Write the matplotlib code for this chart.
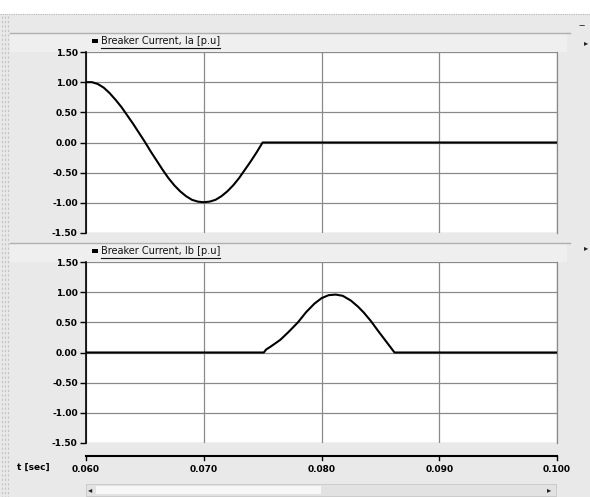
import matplotlib
matplotlib.use("Agg")
import matplotlib.pyplot as plt
from matplotlib.patches import Rectangle
from matplotlib.lines import Line2D

# ---- data ----
t_a = [0.0600, 0.0605, 0.0610, 0.0615, 0.0620, 0.0625, 0.0630, 0.0635, 0.0640, 0.0645,
       0.0650, 0.0655, 0.0660, 0.0665, 0.0670, 0.0675, 0.0680, 0.0685, 0.0690, 0.0695,
       0.0700, 0.0705, 0.0710, 0.0715, 0.0720, 0.0725, 0.0730, 0.0735, 0.0740, 0.0745,
       0.0750, 0.1000]
ia = [1.00, 1.00, 0.97, 0.91, 0.82, 0.71, 0.59, 0.45, 0.31, 0.16,
      0.01, -0.15, -0.30, -0.45, -0.59, -0.71, -0.81, -0.89, -0.95, -0.98,
      -0.99, -0.98, -0.95, -0.89, -0.81, -0.71, -0.59, -0.45, -0.31, -0.16,
      0.00, 0.00]

t_b = [0.0600, 0.0751, 0.0753, 0.0757, 0.0765, 0.0772, 0.0780, 0.0787, 0.0794, 0.0800,
       0.0806, 0.0812, 0.0818, 0.0825, 0.0831, 0.0836, 0.0842, 0.0848, 0.0855, 0.0862,
       0.1000]
ib = [0.00, 0.00, 0.05, 0.10, 0.21, 0.34, 0.50, 0.67, 0.81, 0.90,
      0.95, 0.96, 0.94, 0.86, 0.76, 0.66, 0.52, 0.36, 0.18, 0.00,
      0.00]

yticks = [1.50, 1.00, 0.50, 0.00, -0.50, -1.00, -1.50]
xticks = [0.060, 0.070, 0.080, 0.090, 0.100]
titles = ["Breaker Current, Ia [p.u]", "Breaker Current, Ib [p.u]"]
xlabel = "t [sec]"

W, H = 590, 497
BG = "#e9e9e9"
fig = plt.figure(figsize=(W / 100, H / 100), dpi=100, facecolor=BG)

def fx(px):
    return px / W

def fy(py):
    return 1 - py / H

# top white strip and dotted border
fig.patches.append(Rectangle((0, fy(14)), 1, 14 / H, transform=fig.transFigure,
                             facecolor="white", edgecolor="none", zorder=-2))
fig.add_artist(Line2D([0, 1], [fy(14), fy(14)], color="#b8b8b8", lw=0.8, ls=(0, (1, 1)), zorder=-1))
# left dotted strip
for xx in (2, 5, 8):
    fig.add_artist(Line2D([fx(xx), fx(xx)], [fy(16), 0], color="#c4c4c4", lw=0.8,
                          ls=(0, (2, 2)), zorder=-1))

# panel header strips and separators
for top, bot in ((33, 52), (243, 262)):
    fig.patches.append(Rectangle((fx(10), fy(bot)), fx(567 - 10), (bot - top) / H,
                                 transform=fig.transFigure, facecolor="#efefef",
                                 edgecolor="none", zorder=-2))
    fig.add_artist(Line2D([fx(10), fx(570)], [fy(top), fy(top)], color="#b0b0b0", lw=1.0, zorder=-1))

L, R = 86, 557
panels = [(52, 233, t_a, ia), (262, 443, t_b, ib)]
axes = []
for i, (top, bot, tt, yy) in enumerate(panels):
    ax = fig.add_axes([fx(L), fy(bot), fx(R - L), (bot - top) / H])
    ax.set_facecolor("white")
    ax.plot(tt, yy, color="black", lw=1.5, zorder=3)
    ax.set_xlim(0.060, 0.100)
    ax.set_ylim(-1.5, 1.5)
    ax.set_yticks(yticks)
    ax.set_yticklabels([f"{v:.2f}" for v in yticks], fontsize=6.5, fontweight="bold")
    ax.set_xticks(xticks)
    ax.tick_params(axis="x", length=0, labelbottom=False)
    ax.tick_params(axis="y", length=4, width=1, direction="out", pad=2, color="black")
    ax.grid(True, color="#8a8a8a", lw=0.9)
    for s in ("top", "bottom"):
        ax.spines[s].set_visible(False)
    ax.spines["right"].set_color("#8a8a8a")
    ax.spines["right"].set_linewidth(0.9)
    ax.spines["left"].set_color("black")
    ax.spines["left"].set_linewidth(1.2)
    axes.append(ax)

    # legend header
    ty = top - 11
    fig.patches.append(Rectangle((fx(92), fy(ty + 2)), fx(6), 4 / H, transform=fig.transFigure,
                                 facecolor="black", edgecolor="none", zorder=2))
    txt = fig.text(fx(101), fy(ty), titles[i], fontsize=7, ha="left", va="center", color="#111111")
    fig.canvas.draw()
    bb = txt.get_window_extent()
    fig.add_artist(Line2D([bb.x0 / W, bb.x1 / W], [bb.y0 / H - 1.5 / H, bb.y0 / H - 1.5 / H],
                          color="#111111", lw=0.8))

# bottom time axis
axt = fig.add_axes([fx(L), fy(462), fx(R - L), 6 / H])
axt.set_xlim(0.060, 0.100)
axt.set_ylim(0, 1)
axt.patch.set_alpha(0)
for s in ("top", "left", "right", "bottom"):
    axt.spines[s].set_visible(False)
axt.plot([0.060, 0.100], [1, 1], color="black", lw=1.5, clip_on=False)
axt.set_yticks([])
axt.set_xticks(xticks)
axt.set_xticklabels([f"{v:.3f}" for v in xticks], fontsize=6.5, fontweight="bold")
axt.tick_params(axis="x", length=0, pad=2)
for v in xticks:
    axt.plot([v, v], [1, 0.4], color="black", lw=1.0, clip_on=False)
fig.text(fx(17), fy(467), xlabel, fontsize=6.5, fontweight="bold", ha="left", va="center")

# scrollbar
fig.patches.append(Rectangle((fx(86), fy(496)), fx(470), 12 / H, transform=fig.transFigure,
                             facecolor="#e2e2e2", edgecolor="#c8c8c8", lw=0.6, zorder=1))
fig.patches.append(Rectangle((fx(96), fy(494)), fx(225), 8 / H, transform=fig.transFigure,
                             facecolor="#f7f7f7", edgecolor="none", zorder=2))
fig.text(fx(90), fy(490), "\u25c2", fontsize=6, ha="center", va="center", color="#222222")
fig.text(fx(549), fy(490), "\u25b8", fontsize=6, ha="center", va="center", color="#222222")
fig.text(fx(582), fy(25), "\u2012", fontsize=7, ha="center", va="center", color="#222222")
fig.text(fx(586), fy(43), "\u25b8", fontsize=6, ha="center", va="center", color="#222222")
fig.text(fx(586), fy(248), "\u25b8", fontsize=6, ha="center", va="center", color="#222222")

fig.savefig("out.png", dpi=100, facecolor=BG)
